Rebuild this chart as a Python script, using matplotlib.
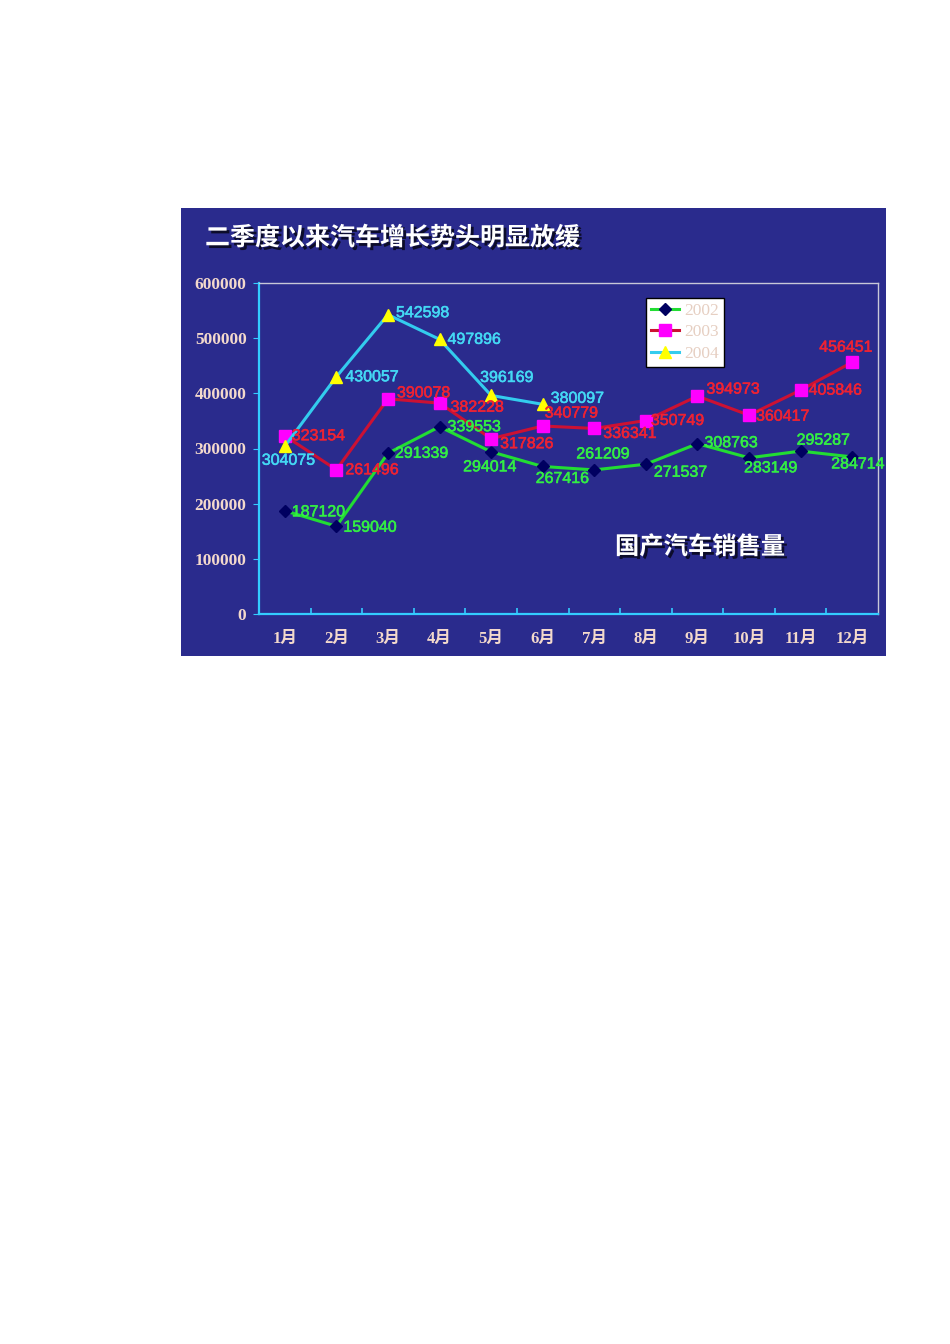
import matplotlib
matplotlib.use('Agg')
import matplotlib.pyplot as plt
import matplotlib.patheffects as pe
from matplotlib.ticker import FixedLocator

# ---- data ----
months = ['1月', '2月', '3月', '4月', '5月', '6月', '7月', '8月', '9月', '10月', '11月', '12月']
sales_2002 = [187120, 159040, 291339, 339553, 294014, 267416, 261209, 271537, 308763, 283149, 295287, 284714]
sales_2003 = [323154, 261496, 390078, 382228, 317826, 340779, 336341, 350749, 394973, 360417, 405846, 456451]
sales_2004 = [304075, 430057, 542598, 497896, 396169, 380097]
series_names = ['2002', '2003', '2004']
y_ticks = [0, 100000, 200000, 300000, 400000, 500000, 600000]
title_text = '二季度以来汽车增长势头明显放缓'
note_text = '国产汽车销售量'

# label offsets in pixels (dx, dy) relative to each point (left edge, centre)
off_2002 = [(7, -1), (7, -1), (7, 0), (8, 0), (-28, -15), (-7, -12), (-18, 16), (8, -8),
            (7, 1), (-5, -10), (-4, 11), (-21, -7)]
off_2003 = [(7, 0), (9, 0), (9, 6), (11, -4), (9, -5), (2, 13), (9, -5), (5, 0),
            (9, 7), (7, -1), (8, 0), (-33, 15)]
off_2004 = [(-23, -14), (9, 0), (8, 2), (8, 0), (-11, 18), (8, 6)]

W, H = 950, 1344
fig = plt.figure(figsize=(W / 100, H / 100), dpi=100)
fig.patch.set_facecolor('white')

bg_col = '#2a2b8d'
panel = fig.add_axes([181 / W, 1 - 656 / H, 705 / W, 448 / H])
panel.set_facecolor(bg_col)
panel.set_xticks([]); panel.set_yticks([])
for s in panel.spines.values():
    s.set_visible(False)

ax = fig.add_axes([259 / W, 1 - 614 / H, 619 / W, 331 / H])
ax.set_facecolor('none')
x = list(range(len(months)))

c2002_line, c2002_mk, c2002_txt = '#22dd33', '#000060', '#33ee44'
c2003_line, c2003_mk, c2003_txt = '#cc1133', '#ff00ff', '#ee2233'
c2004_line, c2004_mk, c2004_txt = '#33ccee', '#ffff00', '#44d8f4'

l1, = ax.plot(x, sales_2002, color=c2002_line, lw=2.2, marker='D', ms=6.5,
              mfc=c2002_mk, mec=c2002_mk, zorder=3, label=series_names[0])
l2, = ax.plot(x, sales_2003, color=c2003_line, lw=2.2, marker='s', ms=8,
              mfc=c2003_mk, mec=c2003_mk, zorder=4, label=series_names[1])
l3, = ax.plot(x[:len(sales_2004)], sales_2004, color=c2004_line, lw=2.2, marker='^', ms=8.5,
              mfc=c2004_mk, mec=c2004_mk, zorder=5, label=series_names[2])

lab_font = dict(family='Liberation Sans', fontsize=11.5, ha='left', va='center',
                textcoords='offset pixels', zorder=6)
for vals, offs, col in [(sales_2002, off_2002, c2002_txt),
                        (sales_2003, off_2003, c2003_txt),
                        (sales_2004, off_2004, c2004_txt)]:
    for i, (v, o) in enumerate(zip(vals, offs)):
        ax.annotate(str(v), (i, v), xytext=o, color=col,
                    path_effects=[pe.withStroke(linewidth=0.4, foreground=col)], **lab_font)

ax.set_xlim(-0.5, len(months) - 0.5)
ax.set_ylim(y_ticks[0], y_ticks[-1])

tick_col = '#f3d9cc'
ax.set_yticks(y_ticks)
ax.set_yticklabels([str(t) for t in y_ticks], family='Liberation Serif',
                   fontweight='bold', fontsize=12.5, color=tick_col)
ax.tick_params(axis='y', direction='out', length=4, color='#33ccff', pad=5)

ax.set_xticks(x)
ax.set_xticklabels(months, family=['Liberation Serif', 'Noto Sans CJK SC'],
                   fontweight='bold', fontsize=12, color=tick_col)
ax.tick_params(axis='x', which='major', length=0, pad=12)
ax.xaxis.set_minor_locator(FixedLocator([i + 0.5 for i in range(len(months) - 1)]))
ax.tick_params(axis='x', which='minor', direction='in', length=4, color='#33ccff', width=1.2)

ax.spines['left'].set_color('#33ccff'); ax.spines['left'].set_linewidth(1.6)
ax.spines['bottom'].set_color('#33ccff'); ax.spines['bottom'].set_linewidth(1.6)
ax.spines['top'].set_color('#c8c8d8'); ax.spines['top'].set_linewidth(1.0)
ax.spines['right'].set_color('#c8c8d8'); ax.spines['right'].set_linewidth(1.0)

leg = ax.legend(handles=[l1, l2, l3], loc='upper left', bbox_to_anchor=(0.611, 0.982),
                frameon=True, fancybox=False, facecolor='white', edgecolor='black',
                framealpha=1, prop={'family': 'Liberation Serif', 'size': 12.5},
                handlelength=1.6, borderpad=0.3, labelspacing=0.3, handletextpad=0.3)
leg.get_frame().set_linewidth(1.0)
for t in leg.get_texts():
    t.set_color('#e6cfc2')
leg.set_zorder(7)

shadow = [pe.withSimplePatchShadow(offset=(2, -2), shadow_rgbFace='black', alpha=0.7)]
fig.text(205 / W, 1 - 238 / H, title_text, family='Noto Sans CJK SC', fontweight='bold',
         fontsize=18, color='white', ha='left', va='center', path_effects=shadow)
fig.text(615 / W, 1 - 547 / H, note_text, family='Noto Sans CJK SC', fontweight='bold',
         fontsize=17.5, color='white', ha='left', va='center', path_effects=shadow)

fig.savefig('out.png', dpi=100, facecolor='white')
